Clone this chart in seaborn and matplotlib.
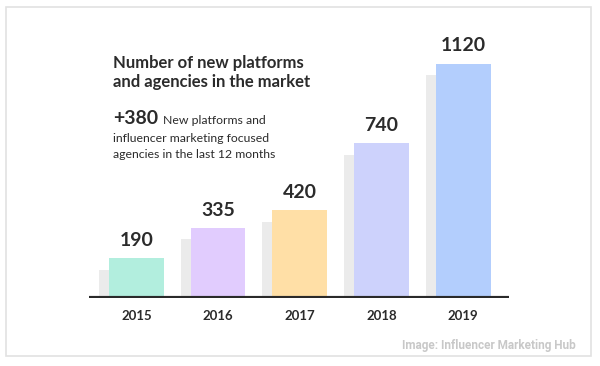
import numpy as np
import pandas as pd
import matplotlib.pyplot as plt
import seaborn as sns
from matplotlib.patches import Rectangle

# Data
years = ['2015', '2016', '2017', '2018', '2019']
platforms = [190, 335, 420, 740, 1120]
bar_colors = ['#b2eede', '#e1ccfe', '#ffdfa6', '#cdd2fc', '#b3cefd']

df = pd.DataFrame({'Year': years, 'Platforms': platforms})

sns.set_style('white')
plt.rcParams['font.family'] = ['Lato', 'DejaVu Sans']

fig = plt.figure(figsize=(6, 3.66), dpi=100)
ax = fig.add_axes([89 / 600, 68 / 366, 420 / 600, 278 / 366])

# grey "shadow" bars, shifted left and slightly lower
shift = 0.125
drop = 55
ax.bar(np.arange(len(years)) - shift, np.array(platforms) - drop,
       width=0.67, color='#ebebeb', zorder=1, linewidth=0)

sns.barplot(
    data=df, x='Year', y='Platforms', hue='Year',
    palette=bar_colors, width=0.67, saturation=1,
    legend=False, ax=ax, zorder=2, linewidth=0
)

for i, v in enumerate(platforms):
    ax.text(i, v + 45, str(v), ha='center', va='bottom',
            fontsize=14, fontweight='bold', color='#2b2b2b')

ax.axhline(0, color='#2a2a2a', linewidth=3, zorder=3)

ax.set_xlim(-0.58, 4.56)
ax.set_ylim(0, 1330)
ax.set_xlabel('')
ax.set_ylabel('')
ax.set_yticks([])
ax.tick_params(axis='x', length=0, pad=9, labelsize=9.5, labelcolor='#2b2b2b')
for lbl in ax.get_xticklabels():
    lbl.set_fontweight('bold')
sns.despine(ax=ax, left=True, bottom=True)

# Headline text
fig.text(113 / 600, 1 - 68 / 366, 'Number of new platforms', fontsize=12,
         fontweight='bold', color='#2b2b2b', va='baseline')
fig.text(113 / 600, 1 - 87 / 366, 'and agencies in the market', fontsize=12,
         fontweight='bold', color='#2b2b2b', va='baseline')
fig.text(113 / 600, 1 - 124 / 366, '+380', fontsize=14, fontweight='bold',
         color='#2b2b2b', va='baseline')
fig.text(163 / 600, 1 - 124 / 366, 'New platforms and', fontsize=8.8,
         color='#2b2b2b', va='baseline')
fig.text(113 / 600, 1 - 142 / 366, 'influencer marketing focused', fontsize=8.8,
         color='#2b2b2b', va='baseline')
fig.text(113 / 600, 1 - 158 / 366, 'agencies in the last 12 months', fontsize=8.8,
         color='#2b2b2b', va='baseline')

# Source
fig.text(576 / 600, 1 - 345 / 366, 'Image: Influencer Marketing Hub',
         family=['Roboto', 'DejaVu Sans'], fontsize=8.5,
         fontweight='bold', color='#c8c8c8', ha='right', va='center')

# Frame
fig.patches.append(Rectangle((6 / 600, 1 - 356 / 366), 585 / 600, 349 / 366,
                             transform=fig.transFigure, fill=False,
                             edgecolor='#e2e2e2', linewidth=1.2))

fig.savefig('out.png', dpi=100)
